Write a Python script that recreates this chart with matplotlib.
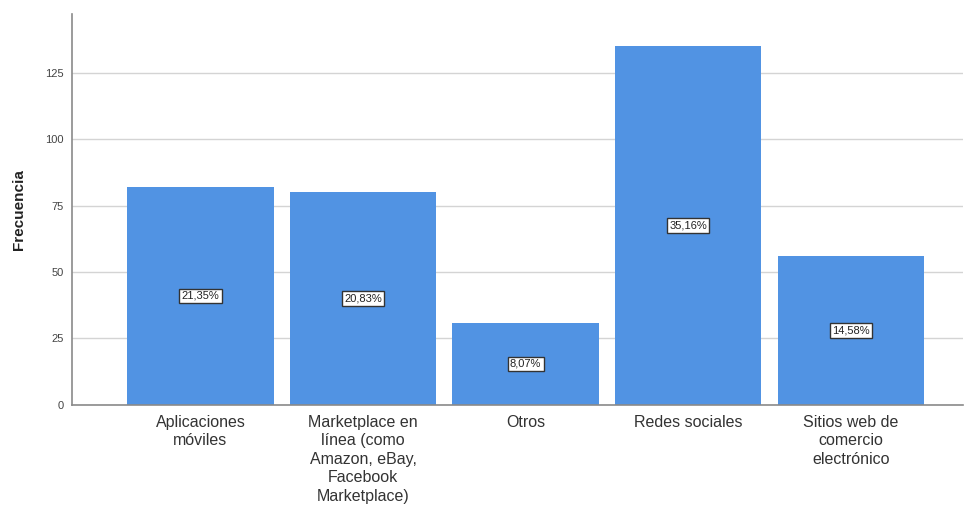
import matplotlib.pyplot as plt
import numpy as np

plt.rcParams['font.family'] = ['Liberation Sans', 'DejaVu Sans']

# Frecuencias por canal de compra
categorias = [
    "Aplicaciones\nmóviles",
    "Marketplace en\nlínea (como\nAmazon, eBay,\nFacebook\nMarketplace)",
    "Otros",
    "Redes sociales",
    "Sitios web de\ncomercio\nelectrónico",
]
frecuencias = [82, 80, 31, 135, 56]
porcentajes = ["21,35%", "20,83%", "8,07%", "35,16%", "14,58%"]
yticks = [0, 25, 50, 75, 100, 125]

fig = plt.figure(figsize=(9.66, 5.08), dpi=100)
ax = fig.add_axes([0.0745, 0.2028, 0.9225, 0.7696])

x = np.arange(len(categorias))
ax.bar(x, frecuencias, width=0.9, color="#5193e3", zorder=2)

# etiquetas de porcentaje en el centro de cada barra
for xi, f, p in zip(x, frecuencias, porcentajes):
    ax.text(xi, f / 2, p, ha="center", va="center", fontsize=8, color="#222222",
            zorder=3,
            bbox=dict(boxstyle="square,pad=0.2", facecolor="white",
                      edgecolor="#333333", linewidth=1.0))

ax.set_xlim(-0.79, 4.69)
ax.set_ylim(0, 147)
ax.set_yticks(yticks)
ax.set_xticks(x)
ax.set_xticklabels(categorias, fontsize=11.5, color="#333333", linespacing=1.3)
ax.tick_params(axis="x", length=0, pad=7)
ax.tick_params(axis="y", length=0, pad=6, labelsize=8, labelcolor="#444444")

ax.grid(axis="y", color="#d4d4d4", linewidth=1, zorder=0)
for s in ["top", "right"]:
    ax.spines[s].set_visible(False)
for s in ["left", "bottom"]:
    ax.spines[s].set_color("#8a8a8a")
    ax.spines[s].set_linewidth(1.2)

ax.set_ylabel("Frecuencia", fontsize=11, fontweight="bold", color="#222222", labelpad=14)

fig.savefig("out.png", dpi=100)
